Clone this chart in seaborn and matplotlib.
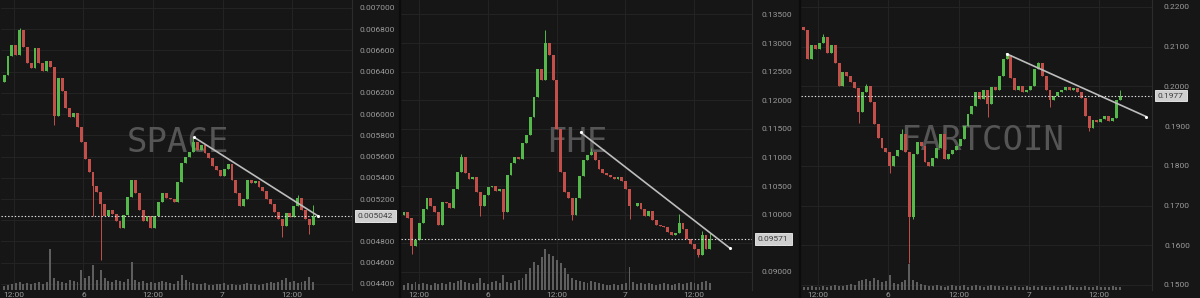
import numpy as np
import pandas as pd
import matplotlib
matplotlib.use("Agg")
import matplotlib.pyplot as plt
import matplotlib.transforms as mtransforms
from matplotlib.lines import Line2D
import seaborn as sns

# ------------------------------------------------------------------ data
time_ticks = [0, 12, 24, 36, 48]
time_labels = ["12:00", "6", "12:00", "7", "12:00"]
candle_step_h = 2 / 3

# SPACE
space_start_h = -1.7
space_open0 = 0.00630
space_close = [0.00637, 0.00655, 0.00665, 0.00656, 0.00679, 0.00663, 0.00648, 0.00643, 0.00662, 0.00648,
               0.00641, 0.00650, 0.00644, 0.00598, 0.00634, 0.00622, 0.00606, 0.00597, 0.00601, 0.00588,
               0.00574, 0.00558, 0.00545, 0.00532, 0.00527, 0.00515, 0.00504, 0.00510, 0.00506, 0.00499,
               0.00493, 0.00505, 0.00522, 0.00538, 0.00526, 0.00510, 0.00499, 0.00504, 0.00493, 0.00504,
               0.00517, 0.00526, 0.00521, 0.00520, 0.00517, 0.00536, 0.00554, 0.00560, 0.00564, 0.00574,
               0.00566, 0.00571, 0.00563, 0.00559, 0.00551, 0.00547, 0.00542, 0.00548, 0.00553, 0.00538,
               0.00526, 0.00513, 0.00520, 0.00538, 0.00535, 0.00537, 0.00531, 0.00528, 0.00520, 0.00515,
               0.00508, 0.00501, 0.00495, 0.00507, 0.00503, 0.00513, 0.00521, 0.00510, 0.00501, 0.00496,
               0.005042]
space_low_idx = [13, 23, 25, 72, 79]
space_low_val = [0.00590, 0.00504, 0.00463, 0.00484, 0.00487]
space_high_idx = [4, 49, 76, 80]
space_high_val = [0.00681, 0.00578, 0.00524, 0.00514]
space_volume = [4, 5, 6, 7, 8, 6, 7, 6, 7, 8,
                6, 8, 41, 12, 9, 8, 7, 10, 9, 8,
                20, 12, 14, 25, 10, 20, 12, 9, 8, 10,
                9, 8, 11, 28, 10, 8, 9, 7, 8, 7,
                8, 9, 8, 7, 6, 9, 15, 10, 8, 7,
                6, 6, 7, 5, 5, 6, 6, 7, 5, 6,
                5, 5, 6, 7, 6, 6, 5, 6, 7, 8,
                7, 8, 10, 12, 8, 9, 7, 8, 9, 13, 8]
space_last = 0.005042
space_trend_h = [31.15, 52.5]
space_trend_p = [0.00578, 0.00504]
space_yticks = [0.0044, 0.0046, 0.0048, 0.0050, 0.0052, 0.0054, 0.0056,
                0.0058, 0.0060, 0.0062, 0.0064, 0.0066, 0.0068, 0.0070]

# FHE
fhe_start_h = -2.6
fhe_open0 = 0.1000
fhe_close = [0.1004, 0.0995, 0.0945, 0.0955, 0.0985, 0.1010, 0.1030, 0.1015, 0.1005, 0.0982,
             0.1022, 0.1020, 0.1012, 0.1045, 0.1075, 0.1100, 0.1072, 0.1062, 0.1065, 0.1040,
             0.1015, 0.1035, 0.1048, 0.1050, 0.1042, 0.1045, 0.1005, 0.1070, 0.1090, 0.1100,
             0.1098, 0.1126, 0.1140, 0.1170, 0.1205, 0.1255, 0.1236, 0.1300, 0.1280, 0.1236,
             0.1150, 0.1075, 0.1040, 0.1030, 0.1000, 0.1030, 0.1068, 0.1095, 0.1105, 0.1110,
             0.1095, 0.1080, 0.1072, 0.1070, 0.1065, 0.1062, 0.1066, 0.1058, 0.1045, 0.1015,
             0.1015, 0.1020, 0.1010, 0.0998, 0.1006, 0.0990, 0.0982, 0.0980, 0.0978, 0.0970,
             0.0965, 0.0968, 0.0985, 0.0975, 0.0958, 0.0948, 0.0940, 0.0930, 0.0965, 0.0940,
             0.09571]
fhe_low_idx = [2, 20, 26, 44, 59, 77]
fhe_low_val = [0.0931, 0.0998, 0.0992, 0.0990, 0.0992, 0.0926]
fhe_high_idx = [15, 37, 49, 72, 78, 80]
fhe_high_val = [0.1106, 0.1323, 0.1116, 0.1001, 0.0972, 0.0968]
fhe_volume = [5, 7, 6, 8, 6, 7, 6, 5, 7, 6,
              7, 6, 8, 7, 9, 10, 8, 7, 6, 7,
              12, 7, 6, 8, 9, 7, 15, 8, 7, 9,
              10, 12, 16, 22, 28, 25, 33, 41, 36, 34,
              30, 27, 22, 16, 12, 10, 9, 8, 7, 9,
              8, 7, 6, 5, 5, 6, 5, 6, 7, 23,
              8, 6, 7, 6, 7, 6, 5, 6, 7, 6,
              5, 6, 7, 6, 7, 8, 7, 6, 8, 9, 7]
fhe_last = 0.09571
fhe_trend_h = [28.2, 54.3]
fhe_trend_p = [0.1144, 0.0941]
fhe_yticks = [0.090, 0.095, 0.100, 0.105, 0.110, 0.115, 0.120, 0.125, 0.130, 0.135]

# FARTCOIN
fart_start_h = -2.4
fart_open0 = 0.2150
fart_close = [0.2142, 0.2070, 0.2105, 0.2095, 0.2110, 0.2125, 0.2085, 0.2105, 0.2060, 0.2000,
              0.2037, 0.2025, 0.2010, 0.1995, 0.1935, 0.1985, 0.2000, 0.1960, 0.1905, 0.1870,
              0.1845, 0.1835, 0.1800, 0.1825, 0.1840, 0.1880, 0.1835, 0.1670, 0.1830, 0.1860,
              0.1850, 0.1810, 0.1800, 0.1820, 0.1845, 0.1880, 0.1818, 0.1830, 0.1840, 0.1850,
              0.1868, 0.1900, 0.1930, 0.1950, 0.1985, 0.1968, 0.1990, 0.1955, 0.1998, 0.1990,
              0.2025, 0.2070, 0.2080, 0.2022, 0.1992, 0.2000, 0.1985, 0.1990, 0.2000, 0.2045,
              0.2058, 0.2025, 0.1992, 0.1965, 0.1975, 0.1985, 0.1992, 0.1998, 0.1990, 0.1995,
              0.1985, 0.1970, 0.1925, 0.1895, 0.1915, 0.1910, 0.1918, 0.1925, 0.1912, 0.1920,
              0.1965, 0.1977]
fart_low_idx = [14, 22, 27, 28, 47, 63, 73]
fart_low_val = [0.1909, 0.1783, 0.1555, 0.1665, 0.1924, 0.1949, 0.1888]
fart_high_idx = [5, 16, 25, 52, 60, 81]
fart_high_val = [0.2132, 0.2005, 0.1892, 0.2082, 0.2062, 0.1992]
fart_volume = [3, 3, 4, 3, 3, 4, 3, 4, 5, 4,
               4, 5, 6, 5, 9, 10, 11, 9, 12, 10,
               8, 9, 15, 7, 6, 8, 10, 26, 10, 8,
               6, 5, 4, 4, 5, 4, 3, 4, 5, 4,
               4, 5, 3, 4, 5, 4, 3, 4, 5, 4,
               4, 3, 4, 3, 4, 3, 3, 4, 3, 4,
               3, 4, 3, 3, 4, 3, 3, 4, 5, 3,
               3, 3, 4, 3, 3, 4, 3, 3, 3, 4, 3, 3]
fart_last = 0.1977
fart_trend_h = [32.2, 56.0]
fart_trend_p = [0.2082, 0.1924]
fart_yticks = [0.15, 0.16, 0.17, 0.18, 0.19, 0.20, 0.21, 0.22]

# ------------------------------------------------------------------ style
BG = "#161616"
GRID = "#232323"
GREEN = "#55b84a"
RED = "#c24f4a"
TXT = "#9c9c9c"

sns.set_theme(style="dark", rc={
    "axes.facecolor": BG, "figure.facecolor": BG,
    "axes.edgecolor": "#2a2a2a", "grid.color": GRID,
})
plt.rcParams["font.family"] = ["Roboto", "DejaVu Sans"]

W, H = 1200, 298
fig = plt.figure(figsize=(W / 100, H / 100), dpi=100)

panels = [
    dict(name="SPACE", start=space_start_h, open0=space_open0, close=space_close,
         lo_i=space_low_idx, lo_v=space_low_val, hi_i=space_high_idx, hi_v=space_high_val,
         vol=space_volume, last=space_last, th=space_trend_h, tp=space_trend_p,
         yticks=space_yticks, fmt="{:.6f}", ylim=(0.004343, 0.007075), xlim=(-2.24, 58.35),
         wm=(0.505, 0.51)),
    dict(name="FHE", start=fhe_start_h, open0=fhe_open0, close=fhe_close,
         lo_i=fhe_low_idx, lo_v=fhe_low_val, hi_i=fhe_high_idx, hi_v=fhe_high_val,
         vol=fhe_volume, last=fhe_last, th=fhe_trend_h, tp=fhe_trend_p,
         yticks=fhe_yticks, fmt="{:.5f}", ylim=(0.08683, 0.13753), xlim=(-3.13, 58.1),
         wm=(0.5, 0.51)),
    dict(name="FARTCOIN", start=fart_start_h, open0=fart_open0, close=fart_close,
         lo_i=fart_low_idx, lo_v=fart_low_val, hi_i=fart_high_idx, hi_v=fart_high_val,
         vol=fart_volume, last=fart_last, th=fart_trend_h, tp=fart_trend_p,
         yticks=fart_yticks, fmt="{:.4f}", ylim=(0.14872, 0.22176), xlim=(-2.89, 57.0),
         wm=(0.515, 0.515)),
]

plot_w_px = 351
for i, p in enumerate(panels):
    rect = [(400 * i + 1) / W, 8 / H, plot_w_px / W, 290 / H]
    axv = fig.add_axes(rect, zorder=0)
    ax = fig.add_axes(rect, zorder=1, sharex=axv)
    ax.set_facecolor("none")
    axv.set_facecolor(BG)

    close = np.array(p["close"], dtype=float)
    n = len(close)
    t = p["start"] + np.arange(n) * candle_step_h
    opens = np.concatenate([[p["open0"]], close[:-1]])
    highs = np.maximum(opens, close)
    lows = np.minimum(opens, close)
    for k, v in zip(p["hi_i"], p["hi_v"]):
        highs[k] = max(highs[k], v)
    for k, v in zip(p["lo_i"], p["lo_v"]):
        lows[k] = min(lows[k], v)
    up = close >= opens
    cols = np.where(up, GREEN, RED)

    # volume
    axv.bar(t, p["vol"], width=0.34, color="#5e5e5e", linewidth=0)
    axv.set_ylim(0, 290)
    axv.set_xlim(*p["xlim"])
    axv.set_xticks(time_ticks)
    axv.set_yticks([])
    axv.grid(False)
    axv.tick_params(left=False, right=False, bottom=False, labelleft=False, labelbottom=False)
    for s in axv.spines.values():
        s.set_visible(False)

    # grid (drawn on volume axes so it stays behind)
    for tk in time_ticks:
        axv.axvline(tk, color=GRID, lw=0.8, zorder=0)
    ymin, ymax = p["ylim"]
    for yt in p["yticks"]:
        axv.axhline((yt - ymin) / (ymax - ymin) * 290, color=GRID, lw=0.8, zorder=0)

    # watermark
    ax.text(p["wm"][0], p["wm"][1], p["name"], transform=ax.transAxes,
            ha="center", va="center", fontsize=24.5, color="#555555",
            family="DejaVu Sans Mono", zorder=0)

    # candles
    ax.vlines(t, lows, highs, colors=cols, lw=0.7, zorder=2)
    ax.bar(t, close - opens, bottom=opens, width=0.5, color=cols, linewidth=0, zorder=3)

    # trend line
    tdf = pd.DataFrame({"h": p["th"], "p": p["tp"]})
    sns.lineplot(data=tdf, x="h", y="p", ax=ax, color="#bdbdbd", lw=1.2, zorder=4)
    sns.scatterplot(data=tdf, x="h", y="p", ax=ax, color="#ffffff", s=5, linewidth=0, zorder=5)

    # last price line + tag
    ax.axhline(p["last"], color="#e6e6e6", lw=0.8, ls=(0, (1.2, 1.8)), zorder=4)
    trans = mtransforms.blended_transform_factory(ax.transAxes, ax.transData)
    ax.text(1.0 + 6 / plot_w_px, p["last"], p["fmt"].format(p["last"]), transform=trans,
            ha="left", va="center", fontsize=6, color="#3c3c3c", clip_on=False, zorder=6,
            bbox=dict(boxstyle="square,pad=0.35", fc="#cfcfcf", ec="#f2f2f2", lw=0.6))

    ax.set_xlim(*p["xlim"])
    ax.set_ylim(*p["ylim"])
    ax.set_xlabel("")
    ax.set_ylabel("")
    ax.grid(False)
    ax.yaxis.tick_right()
    ax.set_yticks(p["yticks"])
    ax.set_yticklabels([p["fmt"].format(v) for v in p["yticks"]])
    ax.set_xticks(time_ticks)
    ax.set_xticklabels(time_labels)
    ax.tick_params(axis="y", length=0, pad=18, labelsize=6, labelcolor=TXT,
                   left=False, right=True, labelleft=False, labelright=True)
    for lab in ax.get_yticklabels():
        lab.set_horizontalalignment("center")
    ax.tick_params(axis="x", length=0, pad=1.5, labelsize=6, labelcolor=TXT)
    for name, s in ax.spines.items():
        s.set_visible(name == "right")
    ax.spines["right"].set_color("#2c2c2c")
    ax.spines["right"].set_linewidth(0.8)

# panel separators
for xs in (400, 800):
    fig.add_artist(Line2D([xs / W, xs / W], [0, 1], transform=fig.transFigure,
                          color="#0c0c0c", lw=1.6))

fig.savefig("out.png", dpi=100, facecolor=BG)
